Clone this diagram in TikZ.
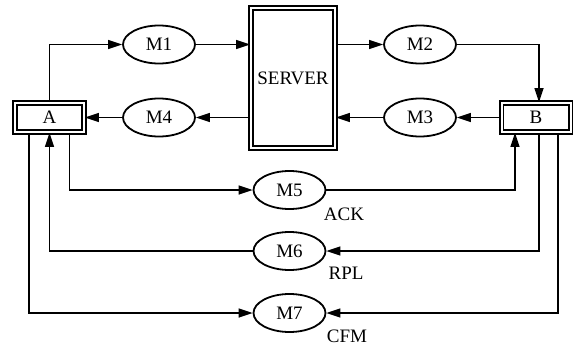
\documentclass[tikz,border=0pt]{standalone}
\usepackage{fontspec}
\setmainfont{Liberation Serif}
\usetikzlibrary{arrows.meta,calc,shapes.geometric}
\begin{document}
\begin{tikzpicture}[x=1pt,y=-1pt,
  font=\fontsize{19}{22}\selectfont,
  msg/.style={draw,ellipse,line width=1.8pt,minimum width=72pt,minimum height=38pt,inner sep=0pt},
  ent/.style={draw,double,line width=1.8pt,double distance=2pt,minimum width=69pt,minimum height=29pt,inner sep=0pt},
  conn/.style={line width=1.5pt,-{Triangle[length=14pt,width=9pt]}},
  lbl/.style={inner sep=0pt}]
\useasboundingbox (0,0) rectangle (576,346);
\node[ent] (A) at (49.5,117.5) {A};
\node[ent] (B) at (536,117.5) {B};
\node[ent,minimum width=84pt,minimum height=140pt] (S) at (293,78) {SERVER};
\node[msg] (M1) at (159,44.5) {M1};
\node[msg] (M2) at (420,44.5) {M2};
\node[msg] (M3) at (420,117.5) {M3};
\node[msg] (M4) at (159,117.5) {M4};
\node[msg] (M5) at (289.5,190) {M5};
\node[msg] (M6) at (289.5,251) {M6};
\node[msg] (M7) at (289.5,313) {M7};
\node[lbl] (ack) at (344,214) {ACK};
\node[lbl] (rpl) at (346,273) {RPL};
\node[lbl] (cfm) at (347,336) {CFM};
% top routes
\draw[conn] (A.north) |- (M1.west);
\draw[conn] (M1.east) -- (M1.east -| S.west);
\draw[conn] (M2.west -| S.east) -- (M2.west);
\draw[conn] (M2.east) -| ([xshift=3pt]B.north);
\draw[conn] (B.west) -- (M3.east);
\draw[conn] (M3.west) -- (M3.west -| S.east);
\draw[conn] (M4.east -| S.west) -- (M4.east);
\draw[conn] (M4.west) -- (A.east);
% bottom routes
\draw[conn] ([xshift=20pt]A.south) |- (M5.west);
\draw[conn] (M5.east) -| ([xshift=-21pt]B.south);
\draw[conn] ([xshift=3pt]B.south) |- (M6.east);
\draw[conn] (M6.west) -| (A.south);
\draw[conn] ([xshift=-20.5pt]A.south) |- (M7.west);
\draw[conn] ([xshift=22pt]B.south) |- (M7.east);
\end{tikzpicture}
\end{document}
